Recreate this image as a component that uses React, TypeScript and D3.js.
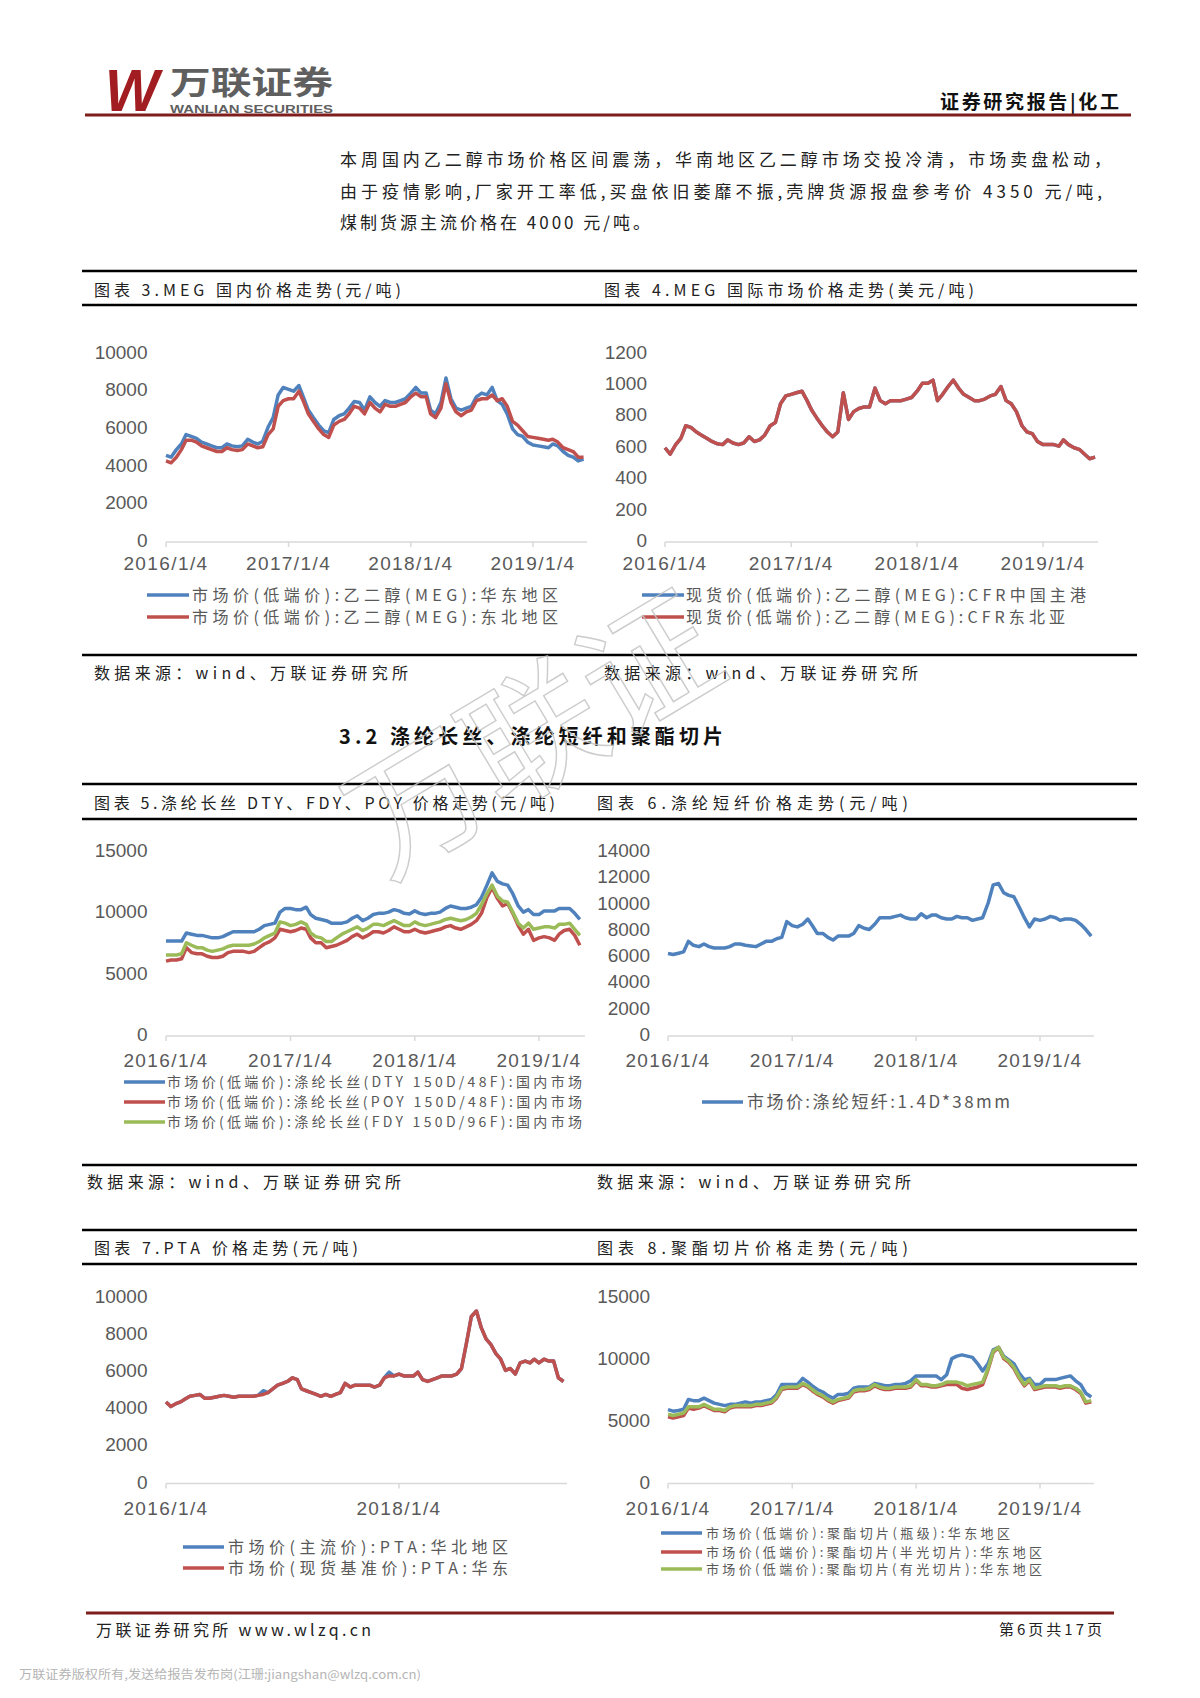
import * as d3 from "d3";

const BLUE = "#4f81bd";
const RED = "#c0504d";
const GREEN = "#9bbb59";
const CJK = "'Noto Sans CJK SC', 'Noto Sans', sans-serif";
const NUM = "'Liberation Sans', Arial, sans-serif";

// sample dates: 4th and 19th of each month, from 2016/1/4
const START = new Date(2016, 0, 4);
const DATES = d3.range(84).map(i => new Date(2016, Math.floor(i / 2), i % 2 ? 19 : 4));

// 图表3 MEG 国内 (元/吨)
const MEG_EAST = [4600,4500,4900,5200,5700,5600,5500,5300,5200,5100,
  5000,5000,5200,5100,5050,5100,5450,5300,5200,5350,
  6100,6600,7800,8200,8100,8000,8300,7600,7000,6600,
  6200,5900,5800,6500,6700,6800,7100,7450,7400,7000,
  7700,7400,7200,7500,7400,7400,7500,7600,7900,8200,
  7900,7900,7000,6800,7400,8700,7600,7100,7000,7100,
  7200,7700,7900,7800,8200,7500,7300,6800,6000,5700,
  5600,5300,5150,5100,5050,5000,5200,5100,4800,4600,
  4500,4300,4400];
const MEG_NE = [4300,4200,4500,4900,5400,5400,5300,5100,5000,4900,
  4800,4800,5000,4900,4850,4900,5200,5100,5000,5050,
  5700,6000,7200,7500,7600,7600,8000,7400,6800,6400,
  6000,5700,5550,6200,6400,6500,6800,7200,7100,6800,
  7400,7100,6900,7300,7200,7200,7300,7400,7700,7900,
  7700,7700,6800,6600,7100,8400,7400,6900,6700,6900,
  7000,7500,7600,7600,7800,7500,7600,7200,6400,6200,
  5900,5600,5550,5500,5450,5400,5450,5300,5000,4900,
  4800,4500,4500];

// 图表4 MEG 国际 (美元/吨)
const MEG_CFR_CN = [600,560,620,660,740,730,700,680,660,640,
  625,620,650,630,620,630,670,640,650,680,
  740,760,880,930,940,950,960,900,840,790,
  740,700,670,700,950,780,830,850,860,860,
  980,900,880,900,900,900,910,920,960,1010,
  1010,1030,900,940,990,1030,980,940,920,900,
  900,910,930,940,990,900,880,830,740,700,
  690,640,620,620,620,610,650,620,600,590,
  560,530,540];
const MEG_CFR_NEA = [600,560,620,660,740,730,700,680,660,640,
  625,620,650,630,620,630,670,640,650,680,
  740,760,880,930,940,950,960,900,840,790,
  740,700,670,700,950,780,830,850,860,860,
  980,900,880,900,900,900,910,920,960,1010,
  1010,1030,900,940,990,1030,980,940,920,900,
  900,910,930,940,990,900,880,830,740,700,
  690,640,620,620,620,610,650,620,600,590,
  560,530,540];

// 图表5 涤纶长丝
const DTY = [7740,7740,7740,7740,8400,8300,8200,8200,8100,8000,
  8000,8100,8300,8500,8500,8500,8500,8500,8700,9000,
  9100,9200,10100,10400,10400,10300,10300,10500,9900,9600,
  9500,9400,9200,9200,9200,9300,9600,9800,9400,9600,
  9900,10000,10000,10100,10300,10200,10000,9950,10200,10000,
  9900,10000,10000,10100,10400,10600,10500,10400,10400,10500,
  10700,11300,12300,13300,12600,12400,12300,11600,10600,10100,
  10300,9900,9900,10200,10200,10200,10400,10400,10400,10000,
  9500];
const POY = [6100,6200,6200,6300,7200,6800,6700,6700,6500,6400,
  6400,6500,6800,6900,6900,6900,6800,6900,7200,7500,
  7700,8000,8700,8600,8500,8600,8800,8700,8000,7600,
  7600,7200,7300,7400,7600,7800,8100,8300,8000,8200,
  8500,8500,8400,8600,8900,8700,8500,8500,8700,8500,
  8400,8500,8600,8700,8900,9000,8800,8700,8900,9100,
  9400,10000,11300,12100,11200,10600,10800,10000,9000,8300,
  8700,7800,8000,8100,8000,7800,8300,8600,8700,8200,
  7400];
const FDY = [6600,6600,6600,6700,7600,7400,7200,7200,7000,6900,
  7000,7100,7300,7400,7400,7400,7400,7500,7700,8000,
  8200,8400,9300,9200,9000,9100,9300,9100,8400,8100,
  8000,7700,7700,8000,8300,8500,8700,8900,8600,8800,
  9100,9100,9000,9200,9400,9200,9000,9000,9300,9100,
  9000,9100,9200,9300,9500,9600,9500,9400,9500,9700,
  10000,10700,11600,12300,11400,11000,10900,10100,9200,8800,
  9200,8700,8800,8900,8900,8800,9100,9100,9200,8700,
  8200];

// 图表6 涤纶短纤
const PSF = [6270,6200,6300,6400,7200,6900,6800,7000,6800,6700,
  6700,6700,6800,7000,7000,6900,6850,6800,7000,7200,
  7200,7400,7500,8700,8400,8300,8500,8900,8400,7800,
  7800,7500,7300,7600,7600,7600,7800,8400,8200,8100,
  8500,9000,9000,9000,9100,9200,9000,8900,8900,9300,
  9000,9200,9200,9000,8900,8900,9100,9000,9000,8800,
  8900,9000,10100,11500,11600,10900,10700,10600,9800,9000,
  8300,8900,8800,8900,9100,9000,8800,8900,8900,8800,
  8500,8100,7600];

// 图表7 PTA
const PTA_NORTH = [4390,4150,4300,4400,4550,4700,4750,4800,4600,4600,
  4650,4700,4750,4700,4650,4700,4700,4700,4700,4750,
  5000,4900,5100,5300,5400,5500,5700,5600,5100,5000,
  4900,4800,4700,4800,4700,4800,4900,5400,5200,5300,
  5300,5300,5300,5200,5300,5700,6000,5800,5900,5800,
  5800,5800,6000,5600,5500,5600,5700,5800,5800,5800,
  5900,6200,7600,9000,9300,8400,7800,7500,7000,6700,
  6100,6200,5900,6500,6600,6500,6700,6500,6700,6600,
  6600,5700,5500];
const PTA_EAST = [4390,4150,4300,4400,4550,4700,4750,4800,4600,4600,
  4650,4700,4750,4700,4650,4700,4700,4700,4700,4750,
  4800,4900,5100,5300,5400,5500,5700,5600,5100,5000,
  4900,4800,4700,4800,4700,4800,4900,5400,5200,5300,
  5300,5300,5300,5200,5300,5700,5800,5800,5900,5800,
  5800,5800,6000,5600,5500,5600,5700,5800,5800,5800,
  5900,6200,7600,9000,9300,8400,7800,7500,7000,6700,
  6100,6200,5900,6500,6600,6500,6700,6500,6700,6600,
  6600,5700,5500];

// 图表8 聚酯切片
const PET_BOTTLE = [5970,5850,5900,6000,6800,6700,6700,6900,6700,6500,
  6400,6300,6400,6400,6500,6600,6500,6600,6600,6700,
  6800,7200,8000,8000,8000,8000,8500,8200,7900,7600,
  7400,7100,6900,7200,7200,7300,7700,7800,7800,7800,
  8100,8000,7900,7900,8000,8000,8100,8300,8700,8700,
  8700,8700,8700,8400,8800,10100,10300,10400,10300,10200,
  9700,9100,9700,10800,11000,10300,10000,9700,8900,8400,
  8500,8000,8000,8400,8400,8400,8500,8600,8700,8300,
  8000,7300,7000];
const PET_SEMI = [5400,5300,5400,5500,6100,6000,6100,6300,6100,5900,
  5900,5800,6100,6200,6200,6200,6200,6300,6300,6400,
  6500,6900,7600,7700,7700,7700,8000,7800,7500,7200,
  7000,6700,6500,6700,6800,6900,7400,7500,7500,7600,
  7900,7700,7600,7600,7700,7700,7700,7800,8300,7900,
  7900,7800,7800,7900,8000,8000,8000,7700,7600,7700,
  7800,8000,9200,10600,11000,10100,9800,9300,8500,7900,
  8300,7600,7700,7800,7800,7800,7700,7800,7800,7600,
  7300,6500,6600];
const PET_BRIGHT = [5600,5500,5600,5700,6200,6200,6200,6400,6200,6000,
  6000,5900,6200,6300,6300,6300,6300,6400,6400,6500,
  6600,7000,7700,7800,7800,7800,8100,7900,7600,7300,
  7100,6800,6600,6800,6900,7000,7500,7600,7600,7700,
  8000,7800,7700,7700,7800,7800,7800,7900,8400,8000,
  8000,7900,7900,8000,8200,8200,8200,8100,7900,8000,
  8100,8200,9300,10700,11000,10200,9900,9400,8600,8000,
  8400,7700,7800,7900,7900,7900,7800,7900,7900,7700,
  7400,6600,6700];

const YEAR_TICKS = [new Date(2016, 0, 4), new Date(2017, 0, 4), new Date(2018, 0, 4), new Date(2019, 0, 4)];
const TWO_YEAR_TICKS = [new Date(2016, 0, 4), new Date(2018, 0, 4)];

type Series = { label: string; color: string; values: number[]; len: number };
type Spec = {
  x0: number; anchor: Date; xAnchor: number; xEnd: number;
  yZero: number; yTop: number; yMax: number; yStep: number;
  labelRight: number; labelDy: number; ticks: Date[];
  series: Series[];
  legend: { x1: number; x2: number; tx: number; rows: number[]; size: number };
};

const fmt = d3.timeFormat("%Y/%-m/%-d");

function Chart({ s }: { s: Spec }) {
  const x = d3.scaleTime().domain([START, s.anchor]).range([s.x0, s.xAnchor]);
  const y = d3.scaleLinear().domain([0, s.yMax]).range([s.yZero, s.yTop]);
  const line = d3.line<number>().x((_, i) => x(DATES[i])).y(v => y(v));
  const yTicks = d3.range(0, s.yMax + 1, s.yStep);
  return (
    <g>
      <line x1={s.x0} x2={s.xEnd} y1={s.yZero} y2={s.yZero} stroke="#d9d9d9" strokeWidth={1.5} />
      {s.ticks.map(t => (
        <g key={+t}>
          <line x1={x(t)} x2={x(t)} y1={s.yZero} y2={s.yZero + 5} stroke="#d9d9d9" strokeWidth={1.5} />
          <text x={x(t)} y={s.yZero + s.labelDy} textAnchor="middle" fontFamily={NUM} fontSize={19}
            letterSpacing={1.4} fill="#595959">{fmt(t)}</text>
        </g>
      ))}
      {yTicks.map(v => (
        <text key={v} x={s.labelRight} y={y(v) + 5} textAnchor="end" fontFamily={NUM} fontSize={19} fill="#595959">{v}</text>
      ))}
      {s.series.map(se => (
        <path key={se.label} d={line(se.values) || ""} fill="none" stroke={se.color} strokeWidth={3.5}
          strokeLinejoin="round" />
      ))}
      {s.series.map((se, i) => {
        const cy = s.legend.rows[i];
        return (
          <g key={"lg" + i}>
            <line x1={s.legend.x1} x2={s.legend.x2} y1={cy} y2={cy} stroke={se.color} strokeWidth={3.5} />
            <text x={s.legend.tx} y={cy + s.legend.size * 0.36} fontFamily={CJK} fontSize={s.legend.size}
              fill="#595959" textLength={se.len} lengthAdjust="spacing">{se.label}</text>
          </g>
        );
      })}
    </g>
  );
}

const CHARTS: Spec[] = [
  {
    x0: 166, anchor: new Date(2019, 0, 4), xAnchor: 533, xEnd: 587,
    yZero: 542, yTop: 353.5, yMax: 10000, yStep: 2000, labelRight: 147.5, labelDy: 28, ticks: YEAR_TICKS,
    series: [
      { label: "市场价(低端价):乙二醇(MEG):华东地区", color: BLUE, values: MEG_EAST, len: 366 },
      { label: "市场价(低端价):乙二醇(MEG):东北地区", color: RED, values: MEG_NE, len: 366 },
    ],
    legend: { x1: 147, x2: 189, tx: 192, rows: [595, 617], size: 16 },
  },
  {
    x0: 665, anchor: new Date(2019, 0, 4), xAnchor: 1043, xEnd: 1098,
    yZero: 542, yTop: 353.5, yMax: 1200, yStep: 200, labelRight: 647, labelDy: 28, ticks: YEAR_TICKS,
    series: [
      { label: "现货价(低端价):乙二醇(MEG):CFR中国主港", color: BLUE, values: MEG_CFR_CN, len: 400 },
      { label: "现货价(低端价):乙二醇(MEG):CFR东北亚", color: RED, values: MEG_CFR_NEA, len: 379 },
    ],
    legend: { x1: 642, x2: 684, tx: 686, rows: [595, 617], size: 16 },
  },
  {
    x0: 166, anchor: new Date(2019, 0, 4), xAnchor: 539, xEnd: 585,
    yZero: 1036, yTop: 852, yMax: 15000, yStep: 5000, labelRight: 147.5, labelDy: 31, ticks: YEAR_TICKS,
    series: [
      { label: "市场价(低端价):涤纶长丝(DTY 150D/48F):国内市场", color: BLUE, values: DTY, len: 415 },
      { label: "市场价(低端价):涤纶长丝(POY 150D/48F):国内市场", color: RED, values: POY, len: 415 },
      { label: "市场价(低端价):涤纶长丝(FDY 150D/96F):国内市场", color: GREEN, values: FDY, len: 415 },
    ],
    legend: { x1: 124, x2: 165, tx: 167, rows: [1082, 1102, 1122], size: 14 },
  },
  {
    x0: 668, anchor: new Date(2019, 0, 4), xAnchor: 1040, xEnd: 1094,
    yZero: 1036, yTop: 852, yMax: 14000, yStep: 2000, labelRight: 650, labelDy: 31, ticks: YEAR_TICKS,
    series: [
      { label: "市场价:涤纶短纤:1.4D*38mm", color: BLUE, values: PSF, len: 263 },
    ],
    legend: { x1: 702, x2: 743, tx: 747, rows: [1102], size: 17 },
  },
  {
    x0: 166, anchor: new Date(2018, 0, 4), xAnchor: 399, xEnd: 567,
    yZero: 1483.5, yTop: 1298, yMax: 10000, yStep: 2000, labelRight: 147.5, labelDy: 31, ticks: TWO_YEAR_TICKS,
    series: [
      { label: "市场价(主流价):PTA:华北地区", color: BLUE, values: PTA_NORTH, len: 280 },
      { label: "市场价(现货基准价):PTA:华东", color: RED, values: PTA_EAST, len: 280 },
    ],
    legend: { x1: 183, x2: 224, tx: 228, rows: [1547, 1568], size: 16 },
  },
  {
    x0: 668, anchor: new Date(2019, 0, 4), xAnchor: 1040, xEnd: 1094,
    yZero: 1483.5, yTop: 1298, yMax: 15000, yStep: 5000, labelRight: 650, labelDy: 31, ticks: YEAR_TICKS,
    series: [
      { label: "市场价(低端价):聚酯切片(瓶级):华东地区", color: BLUE, values: PET_BOTTLE, len: 304 },
      { label: "市场价(低端价):聚酯切片(半光切片):华东地区", color: RED, values: PET_SEMI, len: 336 },
      { label: "市场价(低端价):聚酯切片(有光切片):华东地区", color: GREEN, values: PET_BRIGHT, len: 336 },
    ],
    legend: { x1: 661, x2: 702, tx: 706, rows: [1533, 1552, 1569], size: 13 },
  },
];

const TITLES = [
  { x: 94, y: 296, len: 307, text: "图表 3.MEG 国内价格走势(元/吨)" },
  { x: 604, y: 296, len: 370, text: "图表 4.MEG 国际市场价格走势(美元/吨)" },
  { x: 94, y: 809, len: 461, text: "图表 5.涤纶长丝 DTY、FDY、POY 价格走势(元/吨)" },
  { x: 597, y: 809, len: 311, text: "图表 6.涤纶短纤价格走势(元/吨)" },
  { x: 94, y: 1254, len: 264, text: "图表 7.PTA 价格走势(元/吨)" },
  { x: 597, y: 1254, len: 311, text: "图表 8.聚酯切片价格走势(元/吨)" },
];
const SOURCES = [
  { x: 94, y: 679 }, { x: 604, y: 679 }, { x: 87, y: 1188 }, { x: 597, y: 1188 },
];
const RULES = [271, 305, 655, 784, 819, 1165, 1230, 1264];

const PARA = [
  { y: 166, len: 771, text: "本周国内乙二醇市场价格区间震荡，华南地区乙二醇市场交投冷清，市场卖盘松动，" },
  { y: 198, len: 762, text: "由于疫情影响,厂家开工率低,买盘依旧萎靡不振,壳牌货源报盘参考价 4350 元/吨," },
  { y: 229, len: 310, text: "煤制货源主流价格在 4000 元/吨。" },
];

export default function App() {
  return (
    <svg width={1200} height={1698} style={{ position: "absolute", left: 0, top: 0, background: "#fff" }}>
      <rect width={1200} height={1698} fill="#fff" />
      {/* header */}
      <text x={105} y={111} fontFamily={NUM} fontWeight="bold" fontStyle="italic" fontSize={60}
        fill="#a11d21" textLength={54} lengthAdjust="spacingAndGlyphs">W</text>
      <text x={170} y={94} fontFamily={CJK} fontWeight="bold" fontSize={32} fill="#5f5f5f"
        textLength={163} lengthAdjust="spacingAndGlyphs">万联证券</text>
      <text x={170} y={113} fontFamily={NUM} fontWeight="bold" fontSize={10} fill="#5f5f5f"
        textLength={163} lengthAdjust="spacingAndGlyphs">WANLIAN SECURITIES</text>
      <text x={1119} y={109} textAnchor="end" fontFamily={CJK} fontWeight="bold" fontSize={19} fill="#111"
        textLength={179} lengthAdjust="spacing">证券研究报告|化工</text>
      <line x1={85} x2={1131} y1={115} y2={115} stroke="#7f1d1d" strokeWidth={3} />

      {PARA.map(p => (
        <text key={p.y} x={340} y={p.y} fontFamily={CJK} fontSize={17} fill="#222"
          textLength={p.len} lengthAdjust="spacing">{p.text}</text>
      ))}

      {RULES.map(r => (
        <line key={r} x1={82} x2={1137} y1={r} y2={r} stroke="#000" strokeWidth={2.5} />
      ))}
      {TITLES.map(t => (
        <text key={t.text} x={t.x} y={t.y} fontFamily={CJK} fontSize={16} fill="#222"
          textLength={t.len} lengthAdjust="spacing">{t.text}</text>
      ))}
      {SOURCES.map((s, i) => (
        <text key={i} x={s.x} y={s.y} fontFamily={CJK} fontSize={16} fill="#222"
          textLength={314} lengthAdjust="spacing">数据来源：wind、万联证券研究所</text>
      ))}

      <text x={339} y={744} fontFamily={CJK} fontWeight="bold" fontSize={20} fill="#111"
        textLength={384} lengthAdjust="spacing">3.2 涤纶长丝、涤纶短纤和聚酯切片</text>

      {CHARTS.map((c, i) => <Chart key={i} s={c} />)}

      {/* watermark */}
      <text x={0} y={0} transform="translate(528,725) rotate(-31)" textAnchor="middle" dominantBaseline="central"
        fontFamily={CJK} fontSize={135} fill="none" stroke="#c4c4c4" strokeWidth={1.4}
        opacity={0.85}>万联证</text>

      {/* footer */}
      <line x1={86} x2={1114} y1={1613} y2={1613} stroke="#7f1d1d" strokeWidth={3} />
      <text x={96} y={1636} fontFamily={CJK} fontSize={16} fill="#222" textLength={275}
        lengthAdjust="spacing">万联证券研究所 www.wlzq.cn</text>
      <text x={1102} y={1635} textAnchor="end" fontFamily={CJK} fontSize={15} fill="#222" textLength={103}
        lengthAdjust="spacing">第6页共17页</text>
      <text x={19} y={1679} fontFamily={CJK} fontSize={12} fill="#b5b5b5" textLength={402}
        lengthAdjust="spacingAndGlyphs">万联证券版权所有,发送给报告发布岗(江珊:jiangshan@wlzq.com.cn)</text>
    </svg>
  );
}
